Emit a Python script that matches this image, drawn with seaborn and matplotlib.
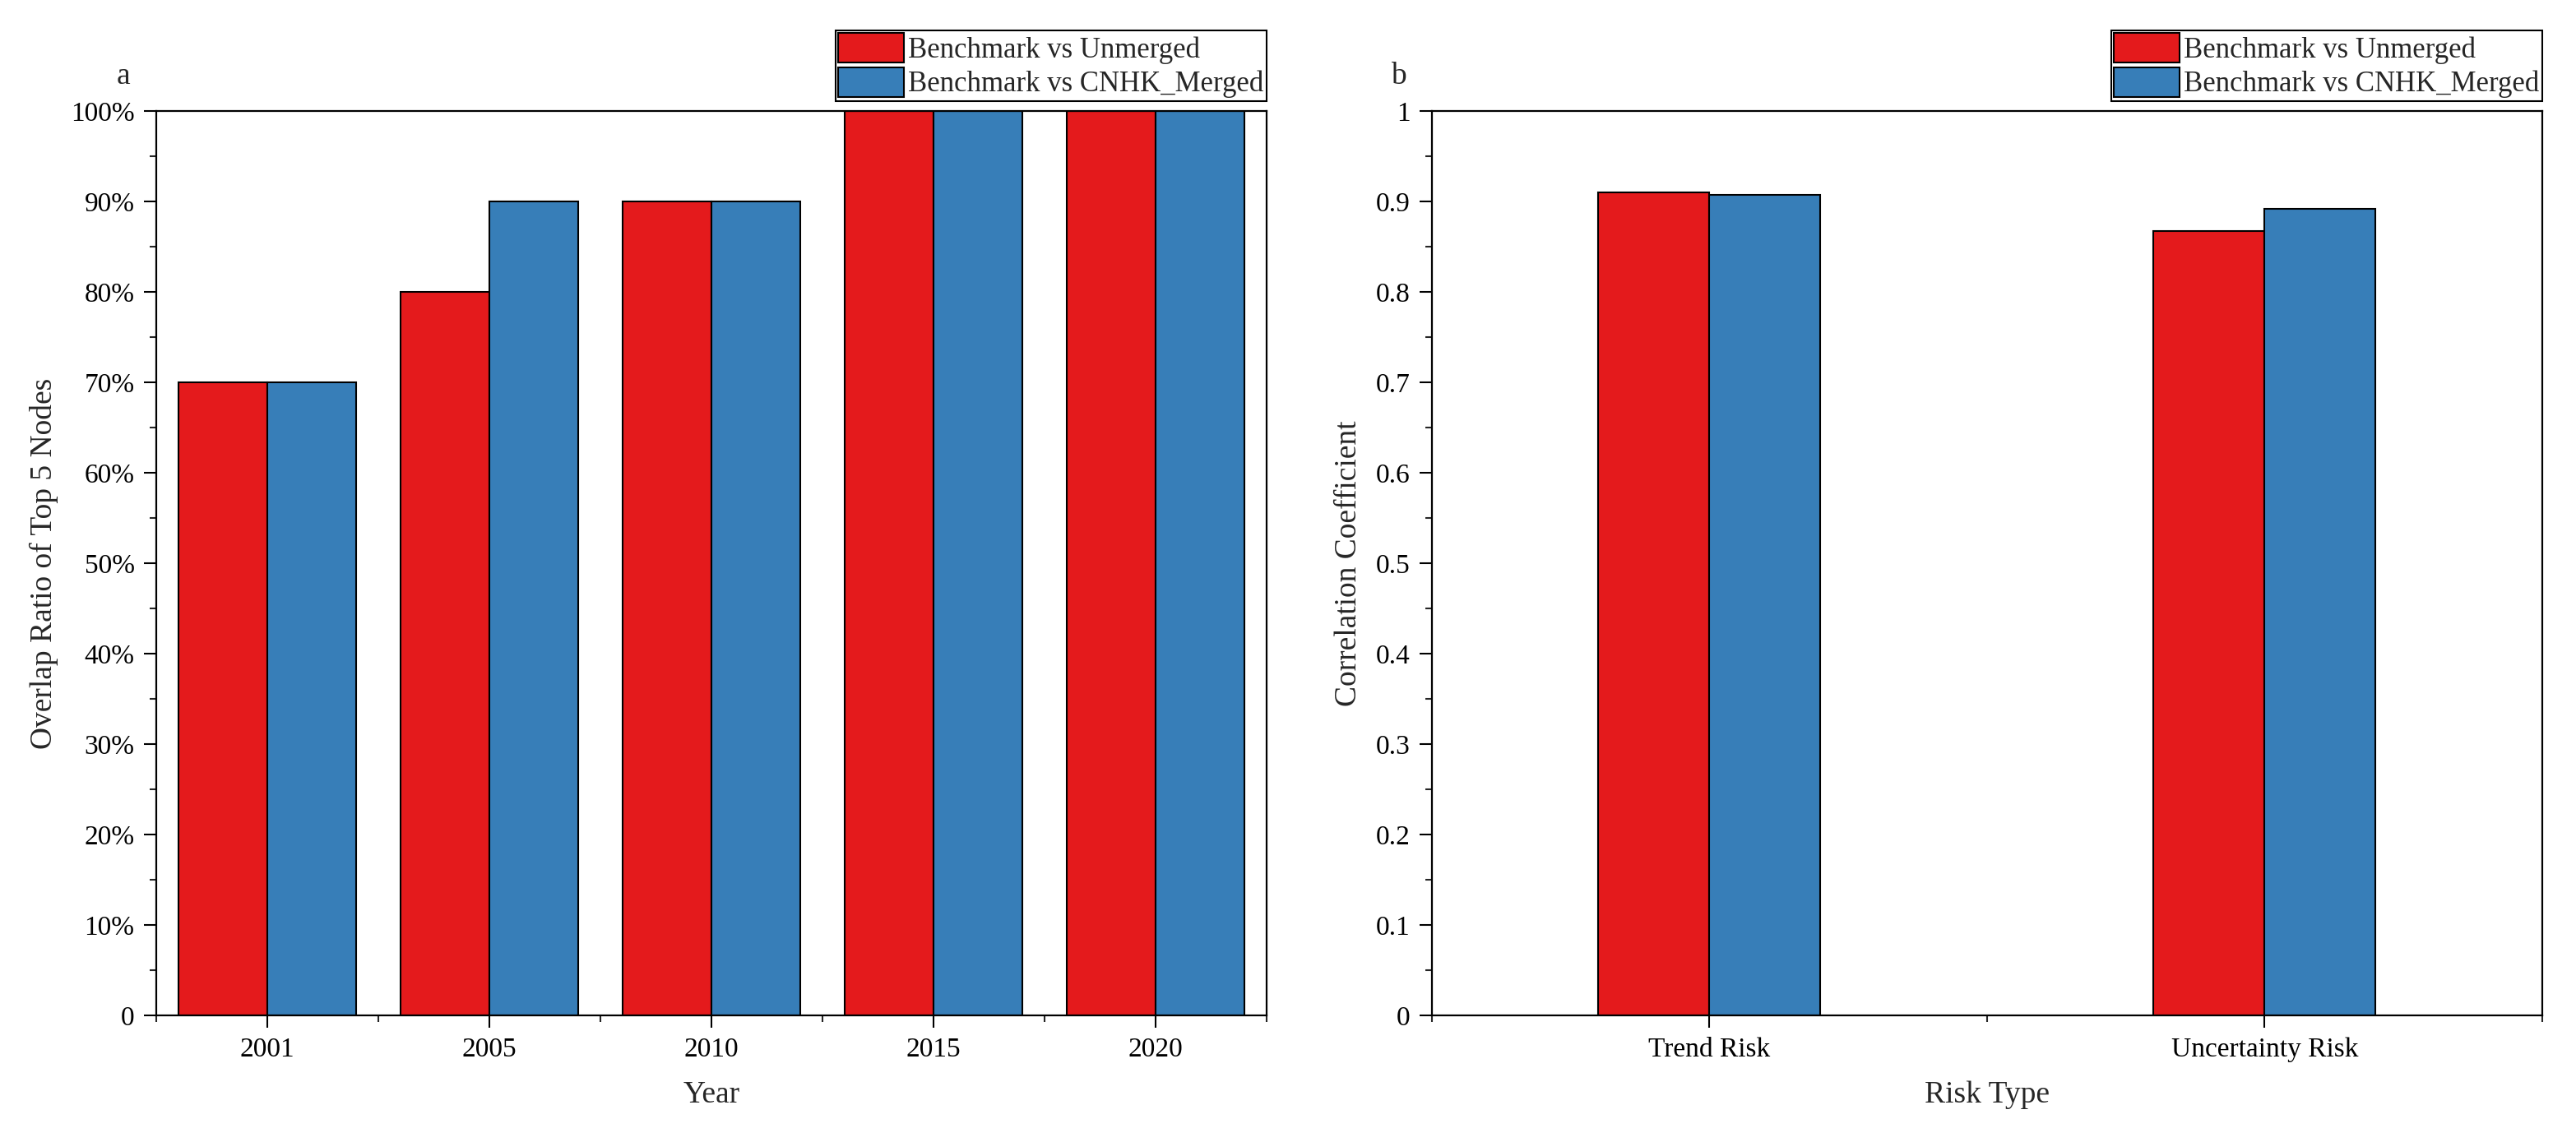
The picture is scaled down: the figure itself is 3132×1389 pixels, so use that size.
import matplotlib
matplotlib.use("Agg")
import matplotlib.pyplot as plt
from matplotlib.patches import Patch
from matplotlib.ticker import FuncFormatter, MultipleLocator, FixedLocator
import pandas as pd
import seaborn as sns

# ─── Data ─────────────────────────────────────────────────────────────────────
years = ["2001", "2005", "2010", "2015", "2020"]
overlap_unmerged = [70, 80, 90, 100, 100]
overlap_cnhk = [70, 90, 90, 100, 100]

risk_types = ["Trend Risk", "Uncertainty Risk"]
corr_unmerged = [0.910, 0.867]
corr_cnhk = [0.907, 0.892]

series = ["Benchmark vs Unmerged", "Benchmark vs CNHK_Merged"]
colors = ["#E41A1C", "#377EB8"]

df_a = pd.DataFrame({
    "Year": years * 2,
    "value": overlap_unmerged + overlap_cnhk,
    "series": [series[0]] * len(years) + [series[1]] * len(years),
})
df_b = pd.DataFrame({
    "Risk Type": risk_types * 2,
    "value": corr_unmerged + corr_cnhk,
    "series": [series[0]] * len(risk_types) + [series[1]] * len(risk_types),
})

# ─── Style ────────────────────────────────────────────────────────────────────
sns.set_style("ticks")
plt.rcParams["font.family"] = ["Liberation Serif", "DejaVu Serif"]
plt.rcParams["axes.linewidth"] = 1.6
plt.rcParams["axes.edgecolor"] = "black"

TICK_FS = 24
LABEL_FS = 27
LEGEND_FS = 25

fig = plt.figure(figsize=(31.32, 13.89), dpi=100)
ax_a = fig.add_axes([190 / 3132, 154 / 1389, 1350 / 3132, 1100 / 1389])
ax_b = fig.add_axes([1741 / 3132, 154 / 1389, 1350 / 3132, 1100 / 1389])

# ─── Panel a ──────────────────────────────────────────────────────────────────
sns.barplot(data=df_a, x="Year", y="value", hue="series", hue_order=series,
            palette=colors, width=0.8, edgecolor="black", linewidth=1.5,
            saturation=1, legend=False, ax=ax_a)
ax_a.set_xlim(-0.5, len(years) - 0.5)
ax_a.set_ylim(0, 100)
ax_a.yaxis.set_major_locator(MultipleLocator(10))
ax_a.yaxis.set_minor_locator(MultipleLocator(5))
ax_a.yaxis.set_major_formatter(FuncFormatter(lambda v, p: "0" if v == 0 else f"{v:.0f}%"))
ax_a.xaxis.set_minor_locator(FixedLocator([i - 0.5 for i in range(len(years) + 1)]))
ax_a.set_xlabel("Year", fontsize=LABEL_FS, labelpad=16)
ax_a.set_ylabel("Overlap Ratio of Top 5 Nodes", fontsize=LABEL_FS, labelpad=11)

# ─── Panel b ──────────────────────────────────────────────────────────────────
sns.barplot(data=df_b, x="Risk Type", y="value", hue="series", hue_order=series,
            palette=colors, width=0.4, edgecolor="black", linewidth=1.5,
            saturation=1, legend=False, ax=ax_b)
ax_b.set_xlim(-0.5, len(risk_types) - 0.5)
ax_b.set_ylim(0, 1)
ax_b.yaxis.set_major_locator(MultipleLocator(0.1))
ax_b.yaxis.set_minor_locator(MultipleLocator(0.05))
ax_b.yaxis.set_major_formatter(FuncFormatter(lambda v, p: f"{v:.1f}".rstrip("0").rstrip(".") if v else "0"))
ax_b.xaxis.set_minor_locator(FixedLocator([i - 0.5 for i in range(len(risk_types) + 1)]))
ax_b.set_xlabel("Risk Type", fontsize=LABEL_FS, labelpad=16)
ax_b.set_ylabel("Correlation Coefficient", fontsize=LABEL_FS, labelpad=11)

# ─── Shared cosmetics ─────────────────────────────────────────────────────────
for ax, tag in [(ax_a, "a"), (ax_b, "b")]:
    for side in ["top", "right", "left", "bottom"]:
        ax.spines[side].set_visible(True)
        ax.spines[side].set_color("black")
    ax.tick_params(axis="both", which="major", direction="out", length=11,
                   width=1.5, labelsize=TICK_FS, pad=8, colors="black")
    ax.tick_params(axis="both", which="minor", direction="out", length=6,
                   width=1.5)
    ax.tick_params(top=False, right=False, which="both")
    ax.grid(False)
    handles = [Patch(facecolor=c, edgecolor="black", linewidth=1.5, label=s)
               for c, s in zip(colors, series)]
    leg = ax.legend(handles=handles, loc="lower right", bbox_to_anchor=(1.0, 1.011),
                    fontsize=LEGEND_FS, frameon=True, fancybox=False,
                    edgecolor="black", framealpha=1, borderpad=0.1,
                    borderaxespad=0, handlelength=2.3, handleheight=1.2,
                    handletextpad=0.15, labelspacing=0.12)
    leg.get_frame().set_linewidth(1.5)
    ax.text(-0.03, 1.038, tag, transform=ax.transAxes, fontsize=LABEL_FS,
            ha="center", va="center")

fig.savefig("out.png", dpi=100)
plt.close(fig)
